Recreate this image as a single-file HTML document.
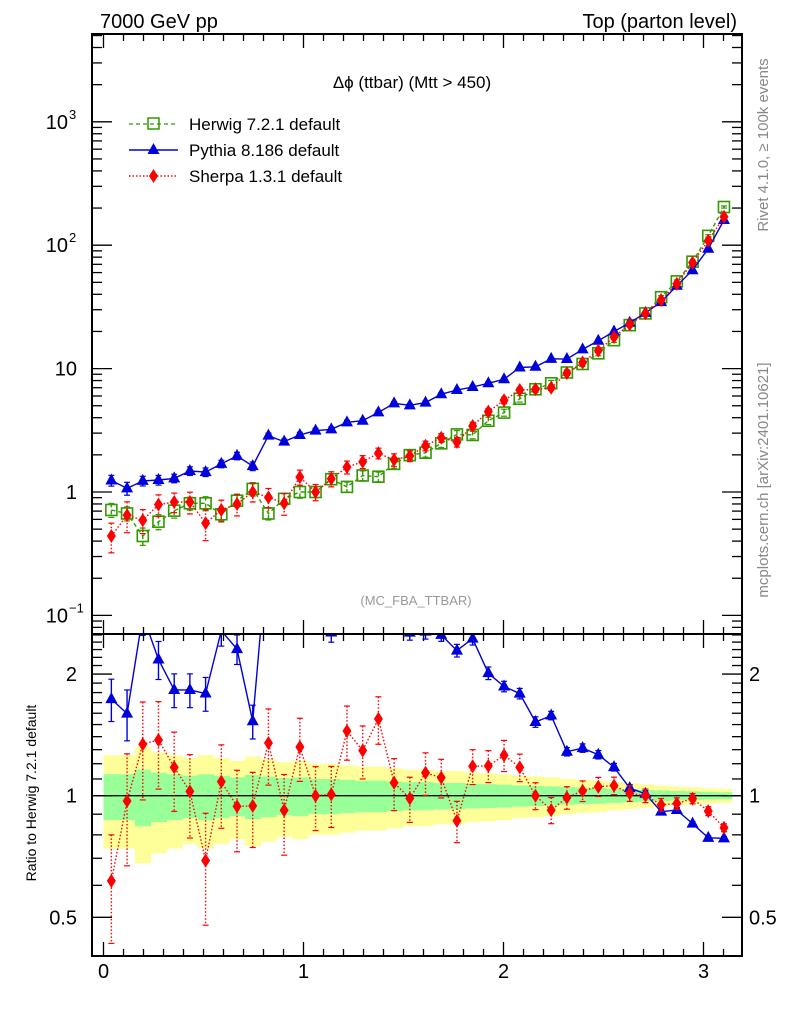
<!DOCTYPE html>
<html><head><meta charset="utf-8">
<style>
body{margin:0;background:#fff;}
svg{display:block;font-family:"Liberation Sans",sans-serif;}
</style></head>
<body>
<svg id="chart" width="786" height="1024" viewBox="0 0 786 1024" xmlns="http://www.w3.org/2000/svg">
<defs>
<clipPath id="clipMain"><rect x="92" y="34" width="650" height="600"/></clipPath>
<clipPath id="clipRatio"><rect x="92" y="634" width="650" height="322"/></clipPath>
</defs>
<g id="bands" clip-path="url(#clipRatio)"></g>
<g id="ticks"></g>
<g id="series"></g>
<rect x="92" y="34" width="650" height="600" fill="none" stroke="#000" stroke-width="2"/>
<rect x="92" y="634" width="650" height="322" fill="none" stroke="#000" stroke-width="2"/>
<text x="100" y="28" font-size="20">7000 GeV pp</text>
<text x="737" y="28" font-size="20" text-anchor="end">Top (parton level)</text>
<text x="412" y="88" font-size="17" text-anchor="middle">Δϕ (ttbar) (Mtt &gt; 450)</text>
<text x="416" y="605" font-size="13" fill="#999" text-anchor="middle">(MC_FBA_TTBAR)</text>
<text transform="translate(768,145) rotate(-90)" font-size="15" fill="#888" text-anchor="middle">Rivet 4.1.0, ≥ 100k events</text>
<text transform="translate(768,480) rotate(-90)" font-size="15" fill="#888" text-anchor="middle">mcplots.cern.ch [arXiv:2401.10621]</text>
<text transform="translate(36,793) rotate(-90)" font-size="14" text-anchor="middle">Ratio to Herwig 7.2.1 default</text>
<g>
 <g>
  <line x1="129" y1="124" x2="178" y2="124" stroke="#339900" stroke-width="1.3" stroke-dasharray="4,3"/>
  <rect x="148" y="118" width="11" height="11" fill="none" stroke="#339900" stroke-width="1.5"/>
  <text x="189" y="130" font-size="17">Herwig 7.2.1 default</text>
 </g>
 <g>
  <line x1="129" y1="150" x2="178" y2="150" stroke="#0000dd" stroke-width="1.5"/>
  <polygon points="153.5,143 147.5,154 159.5,154" fill="#0000dd"/>
  <text x="189" y="156" font-size="17">Pythia 8.186 default</text>
 </g>
 <g>
  <line x1="129" y1="176" x2="178" y2="176" stroke="#ff0000" stroke-width="1.5" stroke-dasharray="1.5,2"/>
  <polygon points="153.5,169 158,176 153.5,183 149,176" fill="#ff0000"/>
  <text x="189" y="182" font-size="17">Sherpa 1.3.1 default</text>
 </g>
</g>
</svg>
<script>
const herwig=[0.715,0.67,0.44,0.575,0.706,0.81,0.81,0.66,0.85,1.06,0.67,0.88,1.0,1.0,1.27,1.1,1.36,1.33,1.69,1.99,2.08,2.48,2.93,2.9,3.78,4.4,5.7,6.8,7.6,9.3,10.9,13.3,17.0,22.5,28.0,37.9,50.9,73.5,119,204];
const pythia=[1.24,1.07,1.23,1.25,1.29,1.48,1.45,1.69,1.96,1.62,2.86,2.56,2.9,3.14,3.22,3.67,3.78,4.42,5.23,5.04,5.3,6.2,6.7,7.1,7.6,8.2,10.2,10.35,12.0,11.95,14.3,16.8,20.0,23.5,28.3,34.6,46.9,62.7,93.6,160];
const sherpa=[0.44,0.65,0.59,0.79,0.83,0.83,0.56,0.715,0.8,1.0,0.905,0.81,1.32,1.0,1.28,1.59,1.76,2.06,1.82,1.96,2.37,2.75,2.54,3.43,4.48,5.54,6.7,6.8,7.0,9.2,11.2,14.0,18.0,22.8,28.0,36.0,48.7,72.3,109,170];
const herwigErr=[0.13,0.13,0.16,0.14,0.13,0.12,0.13,0.12,0.11,0.125,0.115,0.105,0.11,0.1,0.1,0.095,0.09,0.09,0.085,0.08,0.08,0.075,0.075,0.07,0.068,0.065,0.06,0.058,0.055,0.05,0.047,0.045,0.04,0.037,0.033,0.03,0.027,0.025,0.022,0.02];
const pythiaErr=[0.1,0.12,0.09,0.09,0.08,0.08,0.08,0.07,0.07,0.08,0.05,0.05,0.05,0.045,0.045,0.04,0.04,0.04,0.035,0.035,0.035,0.03,0.03,0.03,0.03,0.025,0.025,0.025,0.02,0.02,0.02,0.02,0.018,0.016,0.015,0.013,0.012,0.01,0.01,0.008];
const sherpaErr=[0.27,0.28,0.22,0.2,0.18,0.2,0.28,0.2,0.2,0.17,0.18,0.2,0.14,0.15,0.14,0.12,0.12,0.1,0.12,0.1,0.09,0.08,0.09,0.07,0.06,0.06,0.05,0.05,0.05,0.04,0.035,0.03,0.03,0.025,0.02,0.02,0.018,0.015,0.012,0.01];
const xTicks=[0,1,2,3];
const mainYTicks=[-1,0,1,2,3];
const ratioYLabels=[0.5,1,2];

const NS="http://www.w3.org/2000/svg";
const nb=herwig.length, bw=Math.PI/nb;
const X=v=>103.5+v*200;
const Ym=v=>492-Math.log10(v)*123.4;
const Yr=v=>795.7-Math.log10(v)*404;
function mk(tag,attrs,parent){const e=document.createElementNS(NS,tag);for(const k in attrs)e.setAttribute(k,attrs[k]);parent.appendChild(e);return e;}
const tk=document.getElementById('ticks'), sg=document.getElementById('series'), bg=document.getElementById('bands');

for(let i=0;i<=31;i++){const v=i/10,x=X(v),maj=(i%10===0),L=maj?14:7;
 [[634,1],[34,1],[634,-1],[956,-1]].forEach(([y,d])=>{mk('line',{x1:x,x2:x,y1:y,y2:y+d*L,stroke:'#000','stroke-width':1.3},tk);});}
xTicks.forEach(v=>{const t=mk('text',{x:X(v),y:978,'font-size':20,'text-anchor':'middle'},tk);t.textContent=v;

});
for(let d=-2;d<=3;d++){for(let m=1;m<=9;m++){const v=m*Math.pow(10,d);const y=Ym(v);if(y<34||y>634)continue;const L=m===1?20:10;
 mk('line',{x1:92,x2:92+L,y1:y,y2:y,stroke:'#000','stroke-width':1.3},tk);mk('line',{x1:742,x2:742-L,y1:y,y2:y,stroke:'#000','stroke-width':1.3},tk);}}
mainYTicks.forEach(e=>{const y=Ym(Math.pow(10,e));let t;
 if(e===0){t=mk('text',{x:77,y:y+7,'font-size':20,'text-anchor':'end'},tk);t.textContent='1';}
 else if(e===1){t=mk('text',{x:77,y:y+7,'font-size':20,'text-anchor':'end'},tk);t.textContent='10';}
 else{t=mk('text',{x:68,y:y+7,'font-size':20,'text-anchor':'end'},tk);t.textContent='10';const s=mk('text',{x:69,y:y-3,'font-size':13},tk);s.textContent=e===-1?'−1':String(e);
 
 }
 
 });
for(let i=4;i<=25;i++){const v=i/10,y=Yr(v);if(y<634||y>956)continue;const maj=(i===5||i===10||i===20),L=maj?20:10;
 mk('line',{x1:92,x2:92+L,y1:y,y2:y,stroke:'#000','stroke-width':1.3},tk);mk('line',{x1:742,x2:742-L,y1:y,y2:y,stroke:'#000','stroke-width':1.3},tk);}
ratioYLabels.forEach(v=>{const y=Yr(v);const a=mk('text',{x:77,y:y+7,'font-size':20,'text-anchor':'end'},tk);a.textContent=v;


const b=mk('text',{x:749,y:y+7,'font-size':20},tk);b.textContent=v;

});

for(let i=0;i<nb;i++){const x0=X(i*bw),x1=X((i+1)*bw),e=herwigErr[i];
 const y=mk('rect',{x:x0,y:Yr(1+2*e),width:x1-x0+0.5,height:Yr(1-2*e)-Yr(1+2*e),fill:'#ffff99'},bg);
 
 }
for(let i=0;i<nb;i++){const x0=X(i*bw),x1=X((i+1)*bw),e=herwigErr[i];
 const g=mk('rect',{x:x0,y:Yr(1+e),width:x1-x0+0.5,height:Yr(1-e)-Yr(1+e),fill:'#99ff99'},bg);
 
 }
mk('line',{x1:92,x2:742,y1:Yr(1),y2:Yr(1),stroke:'#000','stroke-width':1.3},bg);

function drawSeries(vals,errs,Y,color,dash,marker,name,clip){
 const g=mk('g',{'clip-path':'url(#'+clip+')'},sg);
 
 
 const pts=vals.map((v,i)=>X((i+0.5)*bw).toFixed(1)+','+Y(v).toFixed(1)).join(' ');
 const pl=mk('polyline',{points:pts,fill:'none',stroke:color,'stroke-width':1.4},g);if(dash)pl.setAttribute('stroke-dasharray',dash);
 vals.forEach((v,i)=>{const x=X((i+0.5)*bw),y=Y(v),yt=Y(v*(1+errs[i])),yb=Y(v*(1-errs[i]));
  const eb=mk('line',{x1:x,x2:x,y1:yt,y2:yb,stroke:color,'stroke-width':1.4},g);if(dash)eb.setAttribute('stroke-dasharray',dash);
  mk('line',{x1:x-3,x2:x+3,y1:yt,y2:yt,stroke:color,'stroke-width':1.2},g);mk('line',{x1:x-3,x2:x+3,y1:yb,y2:yb,stroke:color,'stroke-width':1.2},g);
  let m;
  if(marker==='sq')m=mk('rect',{x:x-5.5,y:y-5.5,width:11,height:11,fill:'none',stroke:color,'stroke-width':1.6},g);
  else if(marker==='tri')m=mk('polygon',{points:`${x},${y-7} ${x-6},${y+4} ${x+6},${y+4}`,fill:color},g);
  else m=mk('polygon',{points:`${x},${y-7} ${x+4.5},${y} ${x},${y+7} ${x-4.5},${y}`,fill:color},g);
  
  });
}
drawSeries(herwig,herwigErr,Ym,'#339900','4,3','sq','herwig-series','clipMain');
drawSeries(pythia,pythiaErr,Ym,'#0000dd',null,'tri','pythia-series','clipMain');
drawSeries(sherpa,sherpaErr,Ym,'#ff0000','1.5,2','dia','sherpa-series','clipMain');
const pyR=pythia.map((v,i)=>v/herwig[i]);
const shR=sherpa.map((v,i)=>v/herwig[i]);
drawSeries(pyR,pythiaErr.map(e=>e*1.2),Yr,'#0000dd',null,'tri','pythia-ratio','clipRatio');
drawSeries(shR,sherpaErr.map((e,i)=>Math.hypot(e,herwigErr[i])),Yr,'#ff0000','1.5,2','dia','sherpa-ratio','clipRatio');
</script>
</body></html>
